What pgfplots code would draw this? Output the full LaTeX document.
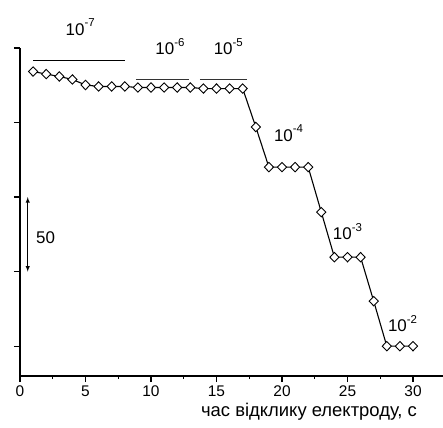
\documentclass[border=0pt]{standalone}
\usepackage{fontspec}
\setmainfont{Liberation Sans}
\usepackage{pgfplots}
\pgfplotsset{compat=1.18}
\newcommand{\ep}[1]{10\raisebox{0.5em}{\fontsize{11.5}{13}\selectfont #1}}

\begin{document}
\begin{tikzpicture}
\path[use as bounding box] (0,0) rectangle (443bp,428bp);
\begin{axis}[
  at={(20bp,52bp)}, anchor=south west,
  scale only axis, width=423bp, height=328bp,
  xmin=0, xmax=32.29, ymin=-20, ymax=200,
  axis x line*=bottom, axis y line*=left,
  axis line style={line width=1.5bp, -},
  xtick={0,5,...,30}, minor xtick={2.5,7.5,...,32.5},
  ytick={0,50,100,150,200}, yticklabels={},
  tick align=outside, major tick length=6bp, minor tick length=3bp,
  tick style={line width=1.3bp, black},
  ticklabel style={font=\fontsize{15.5}{17}\selectfont},
  /pgf/number format/assume math mode=true,
  clip=false,
]
\addplot[black, line width=1.1bp, mark=diamond*, mark size=4.7bp,
  mark options={fill=white, line width=0.9bp, xscale=1.3}] coordinates {
  (1,184.2) (2,182.5) (3,180.9) (4,178.9) (5,175.2) (6,174.2) (7,174.2) (8,174.2)
  (9,173.5) (10,173.5) (11,173.5) (12,173.5) (13,173.5)
  (14,172.8) (15,172.8) (16,172.8) (17,172.8)
  (18,147.0) (19,120.1) (20,120.1) (21,120.1) (22,120.1)
  (23,89.9) (24,59.7) (25,59.7) (26,59.7) (27,30.2)
  (28,0) (29,0) (30,0)
};
\draw[line width=1bp] (axis cs:1,191.5) -- (axis cs:8,191.5);
\draw[line width=1bp, black!80] (axis cs:8.85,178.7) -- (axis cs:12.9,178.7);
\draw[line width=1bp, black!80] (axis cs:13.74,178.7) -- (axis cs:17.3,178.7);
\draw[line width=0.9bp, -latex] (axis cs:0.59,75) -- (axis cs:0.59,100);
\draw[line width=0.9bp, -latex] (axis cs:0.59,75) -- (axis cs:0.59,50);
\node[font=\fontsize{17}{19}\selectfont, inner sep=0pt] at (axis cs:4.6,214) {\ep{-7}};
\node[font=\fontsize{17}{19}\selectfont, inner sep=0pt] at (axis cs:11.45,201) {\ep{-6}};
\node[font=\fontsize{17}{19}\selectfont, inner sep=0pt] at (axis cs:15.9,201) {\ep{-5}};
\node[font=\fontsize{17}{19}\selectfont, inner sep=0pt] at (axis cs:20.5,143) {\ep{-4}};
\node[font=\fontsize{17}{19}\selectfont, inner sep=0pt] at (axis cs:25.0,77) {\ep{-3}};
\node[font=\fontsize{17}{19}\selectfont, inner sep=0pt] at (axis cs:29.2,15) {\ep{-2}};
\node[font=\fontsize{17}{19}\selectfont, inner sep=0pt] at (axis cs:1.95,73) {50};
\node[font=\fontsize{18.5}{20}\selectfont, inner sep=0pt] at (axis cs:22.06,-44.3) {час відклику електроду, с};
\end{axis}
\end{tikzpicture}
\end{document}
